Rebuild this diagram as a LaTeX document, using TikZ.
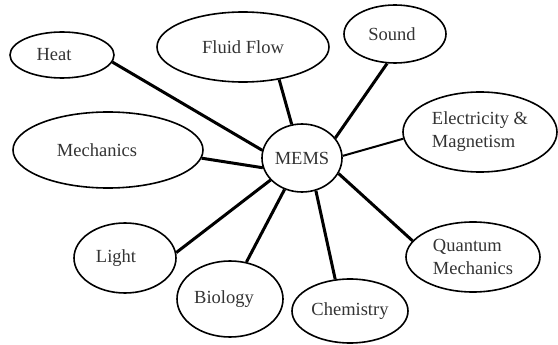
\documentclass[tikz,border=0pt]{standalone}
\usepackage{fontspec}
\setmainfont{Liberation Serif}
\usetikzlibrary{shapes.geometric}
\begin{document}
\begin{tikzpicture}[x=1pt,y=-1pt,
  topic/.style={draw, line width=1.6pt, ellipse, inner sep=0pt, align=center,
    font=\fontsize{18.5}{23}\selectfont, text=black!80},
  link/.style={line width=3pt},
  thinlink/.style={line width=2pt}]
\useasboundingbox (0,0) rectangle (558,345);
\node[topic, minimum width=80, minimum height=68] (mems) at (302,158) {MEMS};
\node[topic, minimum width=104, minimum height=46] (heat) at (62,55) {Heat\kern16pt};
\node[topic, minimum width=172, minimum height=70] (fluid) at (243,47) {Fluid Flow};
\node[topic, minimum width=102, minimum height=58] (sound) at (395,34) {Sound\kern6pt};
\node[topic, minimum width=154, minimum height=80, align=left] (elec) at (480,132) {Electricity \&\\Magnetism};
\node[topic, minimum width=190, minimum height=76] (mech) at (108,150) {Mechanics\kern22pt};
\node[topic, minimum width=102, minimum height=70] (light) at (125,258) {Light\kern18pt};
\node[topic, minimum width=106, minimum height=76] (bio) at (230,299) {Biology\kern12pt};
\node[topic, minimum width=116, minimum height=64] (chem) at (350,311) {Chemistry};
\node[topic, minimum width=134, minimum height=70, align=left] (quant) at (473,257) {Quantum\\Mechanics};
\draw[link] (heat.-8) -- (mems.169);
\draw[link] (fluid.-42) -- (mems.107);
\draw[link] (sound.-105) -- (mems.31);
\draw[thinlink] (elec.185) -- (mems.3);
\draw[link] (mech.-5) -- (mems.194);
\draw[link] (light.6) -- (mems.215);
\draw[link] (bio.66) -- (mems.241);
\draw[link] (chem.115) -- (mems.-67);
\draw[link] (quant.165) -- (mems.-23);
\end{tikzpicture}
\end{document}
